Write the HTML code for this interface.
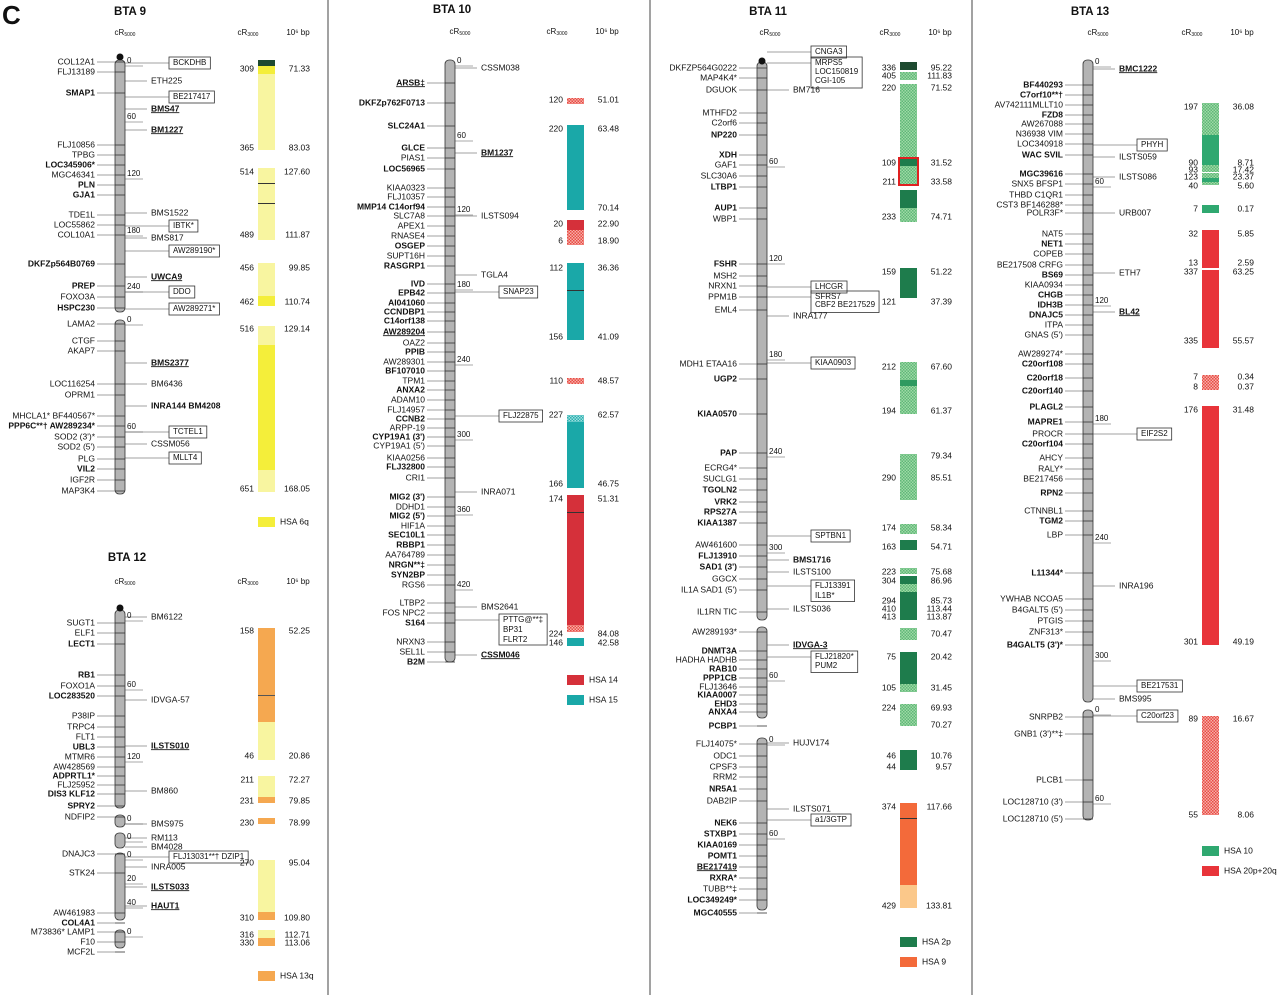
<!DOCTYPE html>
<html><head><meta charset="utf-8"><style>
body{margin:0;background:#fff;}
svg{display:block;font-family:"Liberation Sans",Arial,sans-serif;}
</style></head><body>
<svg id="fig" width="1280" height="995" viewBox="0 0 1280 995" xmlns="http://www.w3.org/2000/svg">
<defs>
<pattern id="hG" width="3" height="3" patternUnits="userSpaceOnUse"><rect width="3" height="3" fill="#9fd9a6"/><rect width="1.5" height="1.5" fill="#5fb878"/><rect x="1.5" y="1.5" width="1.5" height="1.5" fill="#5fb878"/></pattern>
<pattern id="hR" width="3" height="3" patternUnits="userSpaceOnUse"><rect width="3" height="3" fill="#f6b0a8"/><rect width="1.5" height="1.5" fill="#e84a45"/><rect x="1.5" y="1.5" width="1.5" height="1.5" fill="#e84a45"/></pattern>
<pattern id="hT" width="3" height="3" patternUnits="userSpaceOnUse"><rect width="3" height="3" fill="#9edede"/><rect width="1.5" height="1.5" fill="#2ab0b0"/><rect x="1.5" y="1.5" width="1.5" height="1.5" fill="#2ab0b0"/></pattern>
</defs>
</svg>
<script>
const NS='http://www.w3.org/2000/svg';
const svg=document.getElementById('fig');
function el(tag,attrs,parent){const e=document.createElementNS(NS,tag);for(const k in attrs)e.setAttribute(k,attrs[k]);(parent||svg).appendChild(e);return e;}
function T(x,y,s,anchor,bold,size,under){const t=el('text',{x:x,y:y,'font-size':size||8.5,'text-anchor':anchor||'start','font-weight':bold?'bold':'normal','dominant-baseline':'middle',fill:'#111'});if(under)t.setAttribute('text-decoration','underline');t.textContent=s;return t;}

const panels=[
 {title:'BTA 9',tx:130,ty:12,bx:115,segs:[[60,312],[320,494]],cen:57,hx:125,hy:33,blx:258,legY:522,leg:[['HSA 6q','#f4ee3a']]},
 {title:'BTA 12',tx:127,ty:558,bx:115,segs:[[610,808],[815,827],[833,848],[853,920],[930,948]],cen:608,hx:125,hy:582,blx:258,legY:976,leg:[['HSA 13q','#f5a850']]},
 {title:'BTA 10',tx:452,ty:10,bx:445,segs:[[60,662]],cen:null,hx:460,hy:32,blx:567,legY:680,leg:[['HSA 14','#d5303a'],['HSA 15','#1aa8a8']]},
 {title:'BTA 11',tx:768,ty:12,bx:757,segs:[[62,620],[627,718],[738,910]],cen:61,hx:770,hy:33,blx:900,legY:942,leg:[['HSA 2p','#1e7c4c'],['HSA 9','#f36a3a']]},
 {title:'BTA 13',tx:1090,ty:12,bx:1083,segs:[[60,702],[710,820]],cen:null,hx:1098,hy:33,blx:1202,legY:851,leg:[['HSA 10','#2fa870'],['HSA 20p+20q','#e8343a']]}
];
const leftLabels=[
['COL12A1|62','FLJ13189|72','SMAP1|93|b','FLJ10856|145','TPBG|155','LOC345906*|165|b','MGC46341|175','PLN|185|b','GJA1|195|b','TDE1L|215','LOC55862|225','COL10A1|235','DKFZp564B0769|264|b','PREP|286|b','FOXO3A|297','HSPC230|308|b','LAMA2|324','CTGF|341','AKAP7|351','LOC116254|384','OPRM1|395','MHCLA1* BF440567*|416','PPP6C**† AW289234*|426|b','SOD2 (3\')*|437','SOD2 (5\')|447','PLG|459','VIL2|469|b','IGF2R|480','MAP3K4|491'],
['SUGT1|623','ELF1|633','LECT1|644|b','RB1|675|b','FOXO1A|686','LOC283520|696|b','P38IP|716','TRPC4|727','FLT1|737','UBL3|747|b','MTMR6|757','AW428569|767','ADPRTL1*|776|b','FLJ25952|785','DIS3 KLF12|794|b','SPRY2|806|b','NDFIP2|817','DNAJC3|854','STK24|873','AW461983|913','COL4A1|923|b','M73836* LAMP1|932','F10|942','MCF2L|952'],
['ARSB‡|83|bu','DKFZp762F0713|103|b','SLC24A1|126|b','GLCE|148|b','PIAS1|158','LOC56965|169|b','KIAA0323|188','FLJ10357|197','MMP14 C14orf94|207|b','SLC7A8|216','APEX1|226','RNASE4|236','OSGEP|246|b','SUPT16H|256','RASGRP1|266|b','IVD|284|b','EPB42|293|b','AI041060|303|b','CCNDBP1|312|b','C14orf138|321|b','AW289204|332|bu','OAZ2|343','PPIB|352|b','AW289301|362','BF107010|371|b','TPM1|381','ANXA2|390|b','ADAM10|400','FLJ14957|410','CCNB2|419|b','ARPP-19|428','CYP19A1 (3\')|437|b','CYP19A1 (5\')|446','KIAA0256|458','FLJ32800|467|b','CRI1|478','MIG2 (3\')|497|b','DDHD1|507','MIG2 (5\')|516|b','HIF1A|526','SEC10L1|535|b','RBBP1|545|b','AA764789|555','NRGN**‡|565|b','SYN2BP|575|b','RGS6|585','LTBP2|603','FOS NPC2|613','S164|623|b','NRXN3|642','SEL1L|652','B2M|662|b'],
['DKFZP564G0222|68','MAP4K4*|78','DGUOK|90','MTHFD2|113','C2orf6|123','NP220|135|b','XDH|155|b','GAF1|165','SLC30A6|176','LTBP1|187|b','AUP1|208|b','WBP1|219','FSHR|264|b','MSH2|276','NRXN1|286','PPM1B|297','EML4|310','MDH1 ETAA16|364','UGP2|379|b','KIAA0570|414|b','PAP|453|b','ECRG4*|468','SUCLG1|479','TGOLN2|490|b','VRK2|502|b','RPS27A|512|b','KIAA1387|523|b','AW461600|545','FLJ13910|556|b','SAD1 (3\')|567|b','GGCX|579','IL1A SAD1 (5\')|590','IL1RN TIC|612','AW289193*|632','DNMT3A|651|b','HADHA HADHB|660','RAB10|669|b','PPP1CB|678|b','FLJ13646|687','KIAA0007|695|b','EHD3|704|b','ANXA4|712|b','PCBP1|726|b','FLJ14075*|744','ODC1|756','CPSF3|767','RRM2|777','NR5A1|789|b','DAB2IP|801','NEK6|823|b','STXBP1|834|b','KIAA0169|845|b','POMT1|856|b','BE217419|867|bu','RXRA*|878|b','TUBB**‡|889','LOC349249*|900|b','MGC40555|913|b'],
['BF440293|85|b','C7orf10**†|95|b','AV742111MLLT10|105','FZD8|115|b','AW267088|124','N36938 VIM|134','LOC340918|144','WAC SVIL|155|b','MGC39616|174|b','SNX5 BFSP1|184','THBD C1QR1|195','CST3 BF146288*|205','POLR3F*|213','NAT5|234','NET1|244|b','COPEB|254','BE217508 CRFG|265','BS69|275|b','KIAA0934|285','CHGB|295|b','IDH3B|305|b','DNAJC5|315|b','ITPA|325','GNAS (5\')|335','AW289274*|354','C20orf108|364|b','C20orf18|378|b','C20orf140|391|b','PLAGL2|407|b','MAPRE1|422|b','PROCR|434','C20orf104|444|b','AHCY|458','RALY*|469','BE217456|479','RPN2|493|b','CTNNBL1|511','TGM2|521|b','LBP|535','L11344*|573|b','YWHAB NCOA5|599','B4GALT5 (5\')|610','PTGIS|621','ZNF313*|632','B4GALT5 (3\')*|645|b','SNRPB2|717','GNB1 (3\')**‡|734','PLCB1|780','LOC128710 (3\')|802','LOC128710 (5\')|819']
];
// flags: x<n>=box covering n lines, c=continuation line inside box
const rightLabels=[
['BCKDHB|63|x1','ETH225|81','BE217417|97|x1','BMS47|109|bu','BM1227|130|bu','BMS1522|213','IBTK*|226|x1','BMS817|238','AW289190*|251|x1','UWCA9|277|bu','DDO|292|x1','AW289271*|309|x1','BMS2377|363|bu','BM6436|384','INRA144 BM4208|406|b','TCTEL1|432|x1','CSSM056|444','MLLT4|458|x1'],
['BM6122|617','IDVGA-57|700','ILSTS010|746|bu','BM860|791','BMS975|824','RM113|838','BM4028|847','FLJ13031**† DZIP1|857|x1','INRA005|867','ILSTS033|887|bu','HAUT1|906|bu'],
['CSSM038|68','BM1237|153|bu','ILSTS094|216','TGLA4|275','SNAP23|292|x1','FLJ22875|416|x1','INRA071|492','BMS2641|607','PTTG@**‡|620|x3','BP31|630|c','FLRT2|640|c','CSSM046|655|bu'],
['CNGA3|52|x1','MRPS5|63|x3','LOC150819|72|c','CGI-105|81|c','BM716|90','LHCGR|287|x1','SFRS7|297|x2','CBF2 BE217529|305|c','INRA177|316','KIAA0903|363|x1','SPTBN1|536|x1','BMS1716|560|b','ILSTS100|572','FLJ13391|586|x2','IL1B*|596|c','ILSTS036|609','IDVGA-3|645|bu','FLJ21820*|657|x2','PUM2|666|c','HUJV174|743','ILSTS071|809','a1/3GTP|820|x1'],
['BMC1222|69|bu','PHYH|145|x1','ILSTS059|157','ILSTS086|177','URB007|213','ETH7|273','BL42|312|bu','EIF2S2|434|x1','INRA196|586','BE217531|686|x1','BMS995|699','C20orf23|716|x1']
];
const tickLabels=[
['0|62','60|118','120|175','180|232','240|288','0|321','60|428'],
['0|617','60|686','120|758','0|820','0|838','0|856','20|880','40|904','0|933'],
['0|62','60|137','120|211','180|286','240|361','300|436','360|511','420|586'],
['60|163','120|260','180|356','240|453','300|549','60|677','0|741','60|835'],
['0|63','60|183','120|302','180|420','240|539','300|657','0|711','60|800']
];
const blocks=[
[[60,66,'#1e4a30'],[66,74,'#f4ee3a'],[74,150,'#f8f5a0'],[168,240,'#f8f5a0'],[183,184,'#333'],[203,204,'#333'],[263,306,'#f8f5a0'],[296,306,'#f4ee3a'],[326,345,'#f8f5a0'],[345,470,'#f4ee3a'],[470,492,'#f8f5a0']],
[[628,722,'#f5a850'],[695,696,'#555'],[722,760,'#f8f5a0'],[776,797,'#f8f5a0'],[797,803,'#f5a850'],[818,824,'#f5a850'],[860,912,'#f8f5a0'],[912,920,'#f5a850'],[930,938,'#f8f5a0'],[938,946,'#f5a850']],
[[98,104,'url(#hR)'],[125,210,'#1aa8a8'],[220,230,'#d5303a'],[230,245,'url(#hR)'],[263,340,'#1aa8a8'],[290,291,'#333'],[378,384,'url(#hR)'],[415,422,'url(#hT)'],[422,488,'#1aa8a8'],[495,632,'#d5303a'],[512,513,'#333'],[625,632,'url(#hR)'],[638,646,'#1aa8a8']],
[[62,70,'#1e4a30'],[72,80,'url(#hG)'],[84,158,'url(#hG)'],[158,166,'#1e7c4c'],[166,185,'url(#hG)'],[190,208,'#1e7c4c'],[208,222,'url(#hG)'],[268,298,'#1e7c4c'],[362,414,'url(#hG)'],[380,386,'#2e9a60'],[454,500,'url(#hG)'],[524,534,'url(#hG)'],[540,550,'#1e7c4c'],[568,574,'url(#hG)'],[576,584,'#1e7c4c'],[584,592,'url(#hG)'],[592,620,'#1e7c4c'],[628,640,'url(#hG)'],[652,684,'#1e7c4c'],[684,692,'url(#hG)'],[704,726,'url(#hG)'],[750,770,'#1e7c4c'],[803,885,'#f36a3a'],[818,819,'#333'],[885,908,'#fbc88a']],
[[103,135,'url(#hG)'],[135,165,'#2fa870'],[165,172,'url(#hG)'],[173,185,'url(#hG)'],[178,182,'#2fa870'],[205,213,'#2fa870'],[230,268,'#e8343a'],[270,348,'#e8343a'],[375,383,'url(#hR)'],[383,390,'url(#hR)'],[406,645,'#e8343a'],[716,815,'url(#hR)']]
];
const blockValues=[
['309|71.33|69','365|83.03|148','514|127.60|172','489|111.87|235','456|99.85|268','462|110.74|302','516|129.14|329','651|168.05|489'],
['158|52.25|631','46|20.86|756','211|72.27|780','231|79.85|801','230|78.99|823','270|95.04|863','310|109.80|918','316|112.71|935','330|113.06|943'],
['120|51.01|100','220|63.48|129','|70.14|208','20|22.90|224','6|18.90|241','112|36.36|268','156|41.09|337','110|48.57|381','227|62.57|415','166|46.75|484','174|51.31|499','224|84.08|634','146|42.58|643'],
['336|95.22|68','405|111.83|76','220|71.52|88','109|31.52|163','211|33.58|182','233|74.71|217','159|51.22|272','121|37.39|302','212|67.60|367','194|61.37|411','|79.34|456','290|85.51|478','174|58.34|528','163|54.71|547','223|75.68|572','304|86.96|581','294|85.73|601','410|113.44|609','413|113.87|617','|70.47|634','75|20.42|657','105|31.45|688','224|69.93|708','|70.27|725','46|10.76|756','44|9.57|767','374|117.66|807','429|133.81|906'],
['197|36.08|107','90|8.71|163','93|17.42|170','123|23.37|177','40|5.60|186','7|0.17|209','32|5.85|234','13|2.59|263','337|63.25|272','335|55.57|341','7|0.34|377','8|0.37|387','176|31.48|410','301|49.19|642','89|16.67|719','55|8.06|815']
];

const c=T(2,17,'C','start',true,26);
[328,650,972].forEach(x=>{const l=el('line',{x1:x,y1:0,x2:x,y2:995,stroke:'#444','stroke-width':1});});

panels.forEach((p,i)=>{
 const g=el('g',{});
 
 
 const tt=T(p.tx,p.ty,p.title,'middle',true,11.5);g.appendChild(tt);
 
 const bw=10, bx=p.bx;
 const h1=T(p.hx,p.hy,'cR','middle',false,8);const s1=document.createElementNS(NS,'tspan');s1.setAttribute('font-size','5');s1.setAttribute('dy','2');s1.textContent='5000';h1.appendChild(s1);g.appendChild(h1);
 
 const h2=T(p.blx-10,p.hy,'cR','middle',false,8);const s2=document.createElementNS(NS,'tspan');s2.setAttribute('font-size','5');s2.setAttribute('dy','2');s2.textContent='3000';h2.appendChild(s2);g.appendChild(h2);
 
 const h3=T(p.blx+40,p.hy,'10\u2076 bp','middle',false,8);g.appendChild(h3);
 
 p.segs.forEach(s=>{const r=el('rect',{x:bx,y:s[0],width:bw,height:s[1]-s[0],rx:4,fill:'#b4b4b4',stroke:'#333','stroke-width':0.8},g);});
 if(p.cen){const cc=el('circle',{cx:bx+bw/2,cy:p.cen,r:3.5,fill:'#111'},g);}
 leftLabels[i].forEach(str=>{const [t,ys,f='']=str.split('|');const y=+ys;
  const tx=T(bx-20,y,t,'end',f.includes('b'),8.5,f.includes('u'));g.appendChild(tx);
  
  el('line',{x1:bx-18,y1:y,x2:bx,y2:y,stroke:'#444','stroke-width':0.6},g);
  el('line',{x1:bx,y1:y,x2:bx+bw,y2:y,stroke:'#333','stroke-width':0.8},g);
 });
 let box=null;
 rightLabels[i].forEach(str=>{const [t,ys,f='']=str.split('|');const y=+ys;
  const m=f.match(/x(\d)/);const cont=f.includes('c');const boxed=!!m||cont;
  const x0=bx+bw+(boxed?48:26);
  const tx=T(x0,y,t,'start',f.includes('b'),boxed?8:8.5,f.includes('u'));g.appendChild(tx);
  
  if(!cont) el('line',{x1:bx+bw,y1:y,x2:x0-4,y2:y,stroke:'#444','stroke-width':0.6},g);
  const w=tx.getComputedTextLength()+8;
  if(m){const n=+m[1];box=el('rect',{x:x0-4,y:y-6,width:w,height:(n-1)*9.5+12,fill:'none',stroke:'#333','stroke-width':0.8},g);}
  else if(cont&&box){if(w>+box.getAttribute('width'))box.setAttribute('width',w);}
 });
 tickLabels[i].forEach(str=>{const [v,ys]=str.split('|');const y=+ys;
  const tx=T(bx+bw+2,y-1,v,'start',false,8);g.appendChild(tx);
  
  el('line',{x1:bx+bw,y1:y+4,x2:bx+bw+18,y2:y+4,stroke:'#555','stroke-width':0.6},g);
 });
 blocks[i].forEach(b=>{const r=el('rect',{x:p.blx,y:b[0],width:17,height:Math.max(1,b[1]-b[0]),fill:b[2]},g);
  });
 if(i===3){const rb=el('rect',{x:p.blx-1,y:158,width:19,height:27,fill:'none',stroke:'#e02020','stroke-width':2},g);}
 blockValues[i].forEach(str=>{const [a,b,ys]=str.split('|');const y=+ys;
  if(a){const ta=T(p.blx-4,y,a,'end',false,8.5);g.appendChild(ta);}
  const tb=T(p.blx+52,y,b,'end',false,8.5);g.appendChild(tb);
 });
 p.leg.forEach((lg,k)=>{const y=p.legY+k*20;
  const r=el('rect',{x:p.blx,y:y-5,width:17,height:10,fill:lg[1]},g);
  const lt=T(p.blx+22,y,lg[0],'start',false,8.5);g.appendChild(lt);
 });
});
</script>
</body></html>
